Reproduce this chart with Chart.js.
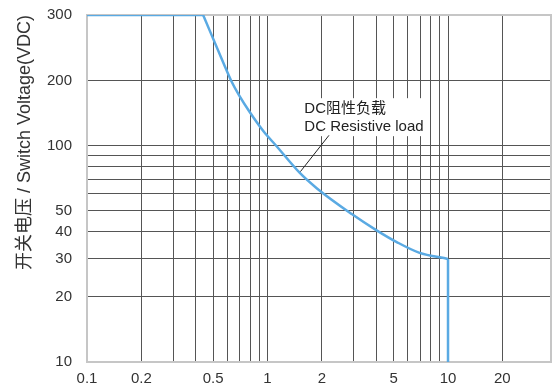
<!DOCTYPE html>
<html>
<head>
<meta charset="utf-8">
<script src="https://cdn.jsdelivr.net/npm/chart.js@4/dist/chart.umd.min.js"></script>
<style>
  html, body { margin: 0; padding: 0; background: #fff; }
  #wrap { width: 557px; height: 390px; }
</style>
</head>
<body>
<div id="wrap"><canvas id="loadChart"></canvas></div>
<script>
// switching current (A) vs max switching voltage (VDC)
const plateauA = [0.1, 0.44];
const plateauV = [300, 300];
const curveA = [0.44, 0.58, 0.63, 0.695, 0.795, 0.95, 1.12, 1.51, 1.88, 2.93, 4, 5.2, 6.9, 10];
const curveV = [300, 219, 200, 172, 144, 117, 100, 75, 63.6, 48.4, 40.8, 35.9, 32.1, 30];
const dropA = [10, 10];
const dropV = [30, 10];

const xTicks = [0.1, 0.2, 0.3, 0.4, 0.5, 0.6, 0.7, 0.8, 0.9, 1, 2, 3, 4, 5, 6, 7, 8, 9, 10, 20];
const xLabels = [0.1, 0.2, 0.5, 1, 2, 5, 10, 20];
const yTicks = [10, 20, 30, 40, 50, 60, 70, 80, 90, 100, 200, 300];
const yLabels = [10, 20, 30, 40, 50, 100, 200, 300];

const curveNote = ['DC阻性负载', 'DC Resistive load'];
const yTitle = '开关电压 / Switch Voltage(VDC)';

const FONT = '"Liberation Sans", Arial, "Noto Sans CJK SC", sans-serif';
const GRID = '#555';
const FRAME = '#c6c6c6';
const BLUE = '#5aaae3';

// log scale whose decades can be stretched between knot values
// (the original sheet squeezes 200..300 into a taller band)
class KneeLogScale extends Chart.LogarithmicScale {
  static id = 'kneeLog';
  static defaults = {};
  getPixelForValue(v) {
    if (v === null || v === undefined || isNaN(v) || v <= 0) return NaN;
    const vals = this.options.knotValues, at = this.options.knotAt;
    let i = 1;
    while (i < vals.length - 1 && vals[i] < v) i++;
    const a = Math.log10(vals[i - 1]), b = Math.log10(vals[i]);
    const d = at[i - 1] + (Math.log10(v) - a) / (b - a) * (at[i] - at[i - 1]);
    return this.getPixelForDecimal(d);
  }
  getValueForPixel(p) {
    const vals = this.options.knotValues, at = this.options.knotAt;
    const d = this.getDecimalForPixel(p);
    let i = 1;
    while (i < vals.length - 1 && at[i] < d) i++;
    const a = Math.log10(vals[i - 1]), b = Math.log10(vals[i]);
    return Math.pow(10, a + (d - at[i - 1]) / (at[i] - at[i - 1]) * (b - a));
  }
}
Chart.register(KneeLogScale);

const noteLayer = {
  id: 'noteLayer',
  beforeDatasetsDraw(chart) {
    const { ctx, chartArea: ca, scales: { x, y } } = chart;
    ctx.save();
    // light frame round the plot
    ctx.strokeStyle = FRAME;
    ctx.lineWidth = 2;
    ctx.strokeRect(ca.left, ca.top, ca.right - ca.left, ca.bottom - ca.top);

    // label box + leader line
    const px = x.getPixelForValue(1.6), py = y.getPixelForValue(148);
    ctx.font = '15px ' + FONT;
    const w = Math.max(...curveNote.map(t => ctx.measureText(t).width));
    ctx.fillStyle = '#fff';
    ctx.fillRect(px - 3, py - 11, w + 6, 38);
    ctx.fillStyle = '#222';
    ctx.textBaseline = 'middle';
    ctx.textAlign = 'left';
    curveNote.forEach((t, i) => ctx.fillText(t, px, py + i * 17.5));

    ctx.strokeStyle = '#222';
    ctx.lineWidth = 1;
    ctx.beginPath();
    ctx.moveTo(x.getPixelForValue(2.19), y.getPixelForValue(112));
    ctx.lineTo(x.getPixelForValue(1.52), y.getPixelForValue(76));
    ctx.stroke();
    ctx.restore();
  }
};

Chart.defaults.font.family = FONT;
Chart.defaults.color = '#333';

const pts = (xs, ys) => xs.map((a, i) => ({ x: a, y: ys[i] }));
const lineStyle = { borderColor: BLUE, borderWidth: 2.5, pointRadius: 0, fill: false };

new Chart(document.getElementById('loadChart'), {
  type: 'line',
  data: {
    datasets: [
      { label: 'plateau', data: pts(plateauA, plateauV), tension: 0, ...lineStyle },
      { label: curveNote[1], data: pts(curveA, curveV), cubicInterpolationMode: 'monotone', ...lineStyle },
      { label: 'cut-off', data: pts(dropA, dropV), tension: 0, ...lineStyle }
    ]
  },
  options: {
    responsive: true,
    maintainAspectRatio: false,
    animation: false,
    events: [],
    layout: { padding: { top: 15, right: 6, bottom: 0, left: 0 } },
    plugins: { legend: { display: false }, tooltip: { enabled: false } },
    scales: {
      x: {
        type: 'logarithmic',
        min: 0.1,
        max: 37.2,
        afterBuildTicks: s => { s.ticks = xTicks.map(v => ({ value: v })); },
        afterFit: s => { s.height = 28; s.paddingLeft = 0; s.paddingRight = 0; },
        grid: { color: GRID, lineWidth: 1, drawTicks: false },
        border: { color: FRAME, width: 2 },
        ticks: {
          autoSkip: false,
          maxRotation: 0,
          padding: 8,
          font: { size: 15 },
          callback: v => xLabels.includes(v) ? String(v) : ''
        }
      },
      y: {
        type: 'kneeLog',
        min: 10,
        max: 300,
        knotValues: [10, 200, 300],
        knotAt: [0, 0.81, 1],
        afterBuildTicks: s => { s.ticks = yTicks.map(v => ({ value: v })); },
        afterFit: s => { s.width = 87; s.paddingTop = 0; s.paddingBottom = 0; },
        grid: {
          color: c => (c.tick && c.tick.value === 300) ? FRAME : GRID,
          lineWidth: 1,
          drawTicks: false
        },
        border: { color: FRAME, width: 2 },
        title: {
          display: true,
          text: yTitle,
          align: 'end',
          font: { size: 18 },
          padding: { top: 14, bottom: 0 }
        },
        ticks: {
          autoSkip: false,
          padding: 15,
          font: { size: 15 },
          callback: v => yLabels.includes(v) ? String(v) : ''
        }
      }
    }
  },
  plugins: [noteLayer]
});
</script>
</body>
</html>
